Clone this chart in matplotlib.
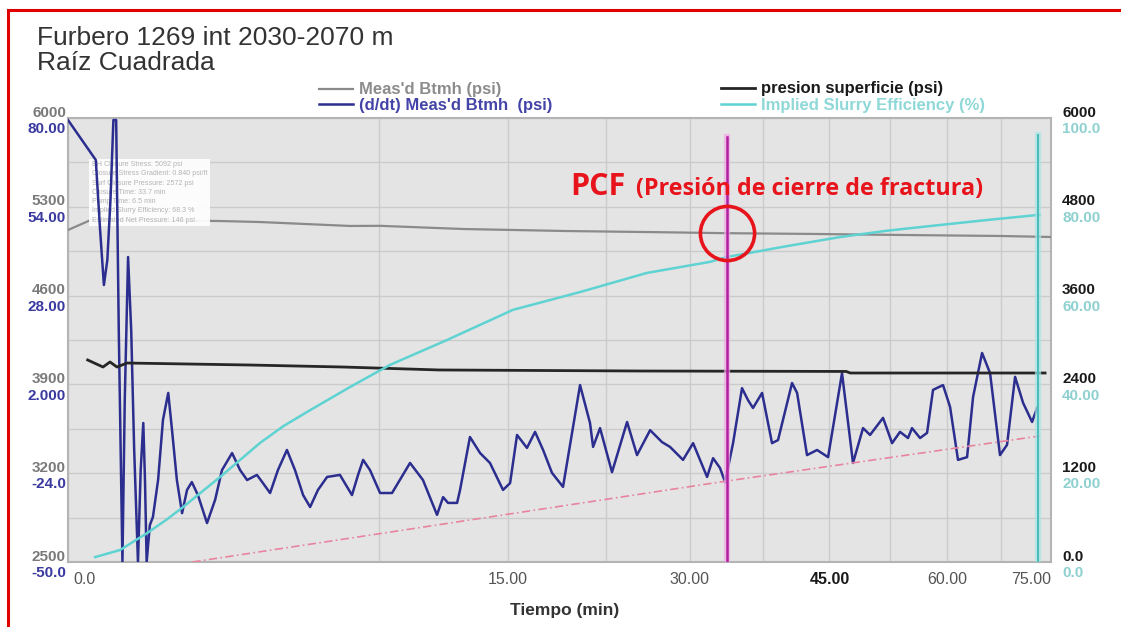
import numpy as np
import matplotlib
matplotlib.use('Agg')
import matplotlib.pyplot as plt
from matplotlib.patches import Rectangle
from matplotlib.transforms import ScaledTranslation

plt.rcParams['font.family'] = ['Liberation Sans', 'DejaVu Sans']

# --- datos (tiempo en minutos) ---
t_btmh = [0.0, 0.04, 1.79, 2.86, 6.17, 7.56, 12.1, 19.3, 26.9, 33.6, 43.1, 53.7, 67.4, 75.0]
p_btmh = [5117, 5196, 5188, 5180, 5149, 5150, 5125, 5109, 5100, 5092, 5086, 5078, 5070, 5062]

t_sup = [0.03, 0.095, 0.137, 0.186, 0.27, 2.57, 5.87, 10.7, 25.4, 47.0, 47.5, 74.1]
p_sup = [2730, 2635, 2703, 2635, 2689, 2662, 2635, 2595, 2581, 2575, 2554, 2554]

t_eff = [0.057, 0.21, 0.485, 0.75, 1.03, 1.4, 1.79, 2.3, 2.86, 3.6, 4.55, 6.17, 8.05, 11.15,
         15.37, 20.35, 26.0, 32.0, 33.7, 40.0, 46.3, 52.0, 59.0, 66.0, 73.3]
eff = [1.1, 2.7, 6.5, 9.5, 12.4, 15.9, 19.1, 23.0, 26.8, 30.6, 34.2, 39.4, 44.4, 50.0,
       56.8, 60.8, 65.1, 67.6, 68.7, 71.1, 73.2, 74.6, 75.9, 77.1, 78.2]

t_lin = [1.2, 8.05, 33.0, 73.3]
p_lin = [0, 404, 1081, 1703]

t_ddt = [0.00, 0.06, 0.08, 0.10, 0.12, 0.14, 0.16, 0.18, 0.20, 0.23,
         0.25, 0.28, 0.31, 0.34, 0.38, 0.41, 0.44, 0.46, 0.48, 0.52,
         0.56, 0.63, 0.70, 0.78, 0.84, 0.92, 1.01, 1.10, 1.19, 1.31,
         1.50, 1.68, 1.84, 2.09, 2.30, 2.49, 2.77, 2.95, 3.17, 3.42,
         3.72, 4.00, 4.29, 4.55, 4.85, 5.21, 5.74, 6.00, 6.26, 6.53,
         6.76, 7.08, 7.56, 8.15, 9.08, 9.78, 10.57, 10.92, 11.21, 11.75,
         11.93, 12.54, 13.18, 13.82, 14.69, 15.17, 15.65, 16.35, 16.93, 17.52,
         18.18, 19.02, 19.72, 20.35, 21.15, 21.40, 21.97, 22.97, 24.26, 25.13,
         26.30, 27.39, 28.13, 29.36, 30.33, 31.70, 32.30, 33.00, 33.51, 34.33,
         35.26, 35.89, 36.42, 37.39, 38.47, 39.13, 40.69, 41.26, 42.39, 43.55,
         44.84, 46.50, 47.83, 49.06, 49.93, 51.56, 52.71, 53.73, 54.77, 55.29,
         56.35, 57.28, 58.08, 59.43, 60.39, 61.48, 62.74, 63.58, 64.85, 65.99,
         67.42, 68.44, 69.62, 70.80, 72.14, 72.89]
v_ddt = [79.4, 67.7, 47.2, 31.1, 38.4, 56.0, 79.4, 79.4, 17.9, -50.0,
         -2.6, 39.3, 17.9, -17.2, -50.0, -23.1, -9.3, -26.0, -50.0, -39.2,
         -36.8, -26.0, -8.4, -0.5, -11.4, -26.0, -35.7, -28.9, -26.6, -30.4,
         -38.6, -31.8, -23.1, -18.1, -23.1, -26.0, -24.5, -26.9, -29.8, -23.1,
         -17.2, -23.1, -30.4, -33.9, -28.9, -25.1, -24.5, -27.5, -30.4, -24.5,
         -20.1, -23.1, -29.8, -29.8, -21.0, -26.0, -36.2, -31.0, -32.7, -32.7,
         -28.9, -13.4, -18.1, -21.0, -28.9, -26.9, -12.8, -16.6, -11.9, -17.2,
         -23.9, -28.0, -12.2, 1.8, -9.3, -16.3, -10.8, -23.7, -9.0, -18.7,
         -11.4, -14.9, -16.3, -20.1, -15.2, -25.1, -19.6, -22.5, -26.6, -15.2,
         0.9, -2.6, -4.9, -0.5, -15.2, -14.3, 2.4, -0.5, -18.7, -17.2,
         -19.3, 5.3, -21.0, -10.8, -12.8, -7.8, -15.2, -11.9, -13.7, -10.8,
         -13.7, -12.2, 0.4, 1.8, -4.6, -20.1, -19.3, -1.7, 11.2, 5.3,
         -18.7, -15.7, 4.2, -3.4, -9.0, -4.9]

t_cierre = 33.7
p_cierre = 5092
t_fin = 73.0

x_ticks = [0, 15, 30, 45, 60, 75]
x_labels = ['0.0', '15.00', '30.00', '45.00', '60.00', '75.00']
gris_ticks = [2500, 3200, 3900, 4600, 5300, 6000]
azul_ticks = [-50, -24, 2, 28, 54, 80]
azul_labels = ['-50.0', '-24.0', '2.000', '28.00', '54.00', '80.00']
negro_ticks = [0, 1200, 2400, 3600, 4800, 6000]
negro_labels = ['0.0', '1200', '2400', '3600', '4800', '6000']
cian_ticks = [0, 20, 40, 60, 80, 100]
cian_labels = ['0.0', '20.00', '40.00', '60.00', '80.00', '100.0']

info = ("BH Closure Stress: 5092 psi\n"
        "Closure Stress Gradient: 0.840 psi/ft\n"
        "Surf Closure Pressure: 2572 psi\n"
        "Closure Time: 33.7 min\n"
        "Pump Time: 6.5 min\n"
        "Implied Slurry Efficiency: 68.3 %\n"
        "Estimated Net Pressure: 146 psi")

c_gris = '#8a8a8a'
c_azul = '#2b2e8e'
c_negro = '#262626'
c_cian = '#5fd2d2'
c_rojo = '#e8141c'

fig = plt.figure(figsize=(11.21, 6.27), dpi=100)
ax = fig.add_axes([68 / 1121, 1 - 562 / 627, 983 / 1121, 444 / 627])
ax.set_facecolor('#e4e4e4')
ax.set_xscale('function', functions=(lambda x: np.sqrt(np.clip(x, 0, None)), np.square))

axb = ax.twinx()
axk = ax.twinx()
axc = ax.twinx()
axb.yaxis.tick_left()

# series
ln_gris, = ax.plot(t_btmh, p_btmh, color=c_gris, lw=1.6, zorder=3)
ax.text(0.024, 0.903, info, transform=ax.transAxes, fontsize=5.1, color='#b4b4b4',
        va='top', ha='left', linespacing=1.45, zorder=6,
        bbox=dict(boxstyle='square,pad=0.35', fc='white', ec='none', alpha=0.92))
ln_azul, = axb.plot(t_ddt, v_ddt, color=c_azul, lw=1.8)
axk.plot(t_lin, p_lin, color='#e8849f', lw=1.2, ls=(0, (5, 2, 1, 2)))
ln_negro, = axk.plot(t_sup, p_sup, color=c_negro, lw=2.0)
ln_cian, = axc.plot(t_eff, eff, color=c_cian, lw=1.8)

# lineas verticales y marca PCF
axc.axvline(t_cierre, ymax=0.957, color='#f3a6e6', lw=4.5, alpha=0.7)
axc.axvline(t_cierre, ymax=0.957, color='#b01fa0', lw=1.8)
axc.axvline(t_fin, ymax=0.962, color='#a8e6e6', lw=4.5, alpha=0.7)
axc.axvline(t_fin, ymax=0.962, color='#4cbcbc', lw=1.5)
axc.plot([t_cierre], [p_cierre], 'o', ms=39, mfc='none', mec=c_rojo, mew=2.6,
         transform=ax.transData, clip_on=False)
axc.text(0.511, 0.827, 'PCF', transform=ax.transAxes, color=c_rojo, fontsize=22,
         fontweight='bold', family=['Open Sans', 'DejaVu Sans'], va='baseline')
axc.text(0.578, 0.827, '(Presión de cierre de fractura)', transform=ax.transAxes,
         color=c_rojo, fontsize=16.8, fontweight='bold', family=['Open Sans', 'DejaVu Sans'],
         va='baseline')

# ejes
ax.set_xlim(0, 75)
ax.set_ylim(2500, 6000)
axb.set_ylim(-50, 80)
axk.set_ylim(0, 6000)
axc.set_ylim(0, 100)

ax.set_xticks(x_ticks, x_labels)
ax.set_xticks(np.arange(0, 75.1, 7.5), minor=True)
ax.set_yticks(gris_ticks, [str(v) for v in gris_ticks])
ax.set_yticks(np.arange(2500, 6001, 350), minor=True)
axb.set_yticks(azul_ticks, azul_labels)
axk.set_yticks(negro_ticks, negro_labels)
axc.set_yticks(cian_ticks, cian_labels)

ax.grid(which='both', color='#cbcbcb', lw=1)
ax.set_axisbelow(True)
for a in (ax, axb, axk, axc):
    a.tick_params(which='both', length=0)
    for s in a.spines.values():
        s.set_visible(False)
for s in ax.spines.values():
    s.set_visible(True)
    s.set_color('#b4b4b4')
    s.set_linewidth(1.5)

ax.tick_params(axis='x', labelsize=11.5, labelcolor='#555555', pad=7)
xl = ax.get_xticklabels()
xl[0].set_horizontalalignment('left')
xl[0].set_transform(xl[0].get_transform() + ScaledTranslation(4 / 72, 0, fig.dpi_scale_trans))
xl[-1].set_horizontalalignment('right')
xl[3].set_color('#1a1a1a')
xl[3].set_fontweight('bold')

ax.tick_params(axis='y', labelsize=11, labelcolor='#7a7a7a', pad=1.5)
axb.tick_params(axis='y', labelsize=11, labelcolor='#3a3aa0', pad=1.5)
axk.tick_params(axis='y', labelsize=11, labelcolor='#1a1a1a', pad=8)
axc.tick_params(axis='y', labelsize=11, labelcolor='#8fd0d0', pad=8)

arriba = ScaledTranslation(0, 5 / 72, fig.dpi_scale_trans)
abajo = ScaledTranslation(0, -7 / 72, fig.dpi_scale_trans)
for a, off in ((ax, arriba), (axb, abajo), (axk, arriba), (axc, abajo)):
    for lab in a.get_yticklabels():
        lab.set_fontweight('bold')
        lab.set_transform(lab.get_transform() + off)

# leyendas
lg1 = fig.legend([ln_gris, ln_azul], ["Meas'd Btmh (psi)", "(d/dt) Meas'd Btmh  (psi)"],
                 loc='upper left', bbox_to_anchor=(311 / 1121, 1 - 74 / 627),
                 frameon=False, prop={'weight': 'bold', 'size': 12},
                 handlelength=2.0, handletextpad=0.4, labelspacing=0.05, borderpad=0)
for txt, col in zip(lg1.get_texts(), ['#8c8c8c', '#4444a8']):
    txt.set_color(col)
lg2 = fig.legend([ln_negro, ln_cian], ['presion superficie (psi)', 'Implied Slurry Efficiency (%)'],
                 loc='upper left', bbox_to_anchor=(713 / 1121, 1 - 73 / 627),
                 frameon=False, prop={'weight': 'bold', 'size': 12},
                 handlelength=2.0, handletextpad=0.4, labelspacing=0.1, borderpad=0)
for txt, col in zip(lg2.get_texts(), ['#1a1a1a', '#8fd8d8']):
    txt.set_color(col)

# titulos
fig.text(37 / 1121, 1 - 38 / 627, 'Furbero 1269 int 2030-2070 m', fontsize=19,
         color='#333333', va='center')
fig.text(37 / 1121, 1 - 63 / 627, 'Raíz Cuadrada', fontsize=19, color='#333333', va='center')
fig.text(565 / 1121, 1 - 610 / 627, 'Tiempo (min)', fontsize=12.5, fontweight='bold',
         color='#333333', ha='center', va='center')

# marco rojo
fig.add_artist(Rectangle((8 / 1121, -0.1), 1.2, 1.1 - 10 / 627, transform=fig.transFigure,
                         fill=False, ec='#e00000', lw=2.2, clip_on=False))

fig.savefig('out.png', dpi=100)
